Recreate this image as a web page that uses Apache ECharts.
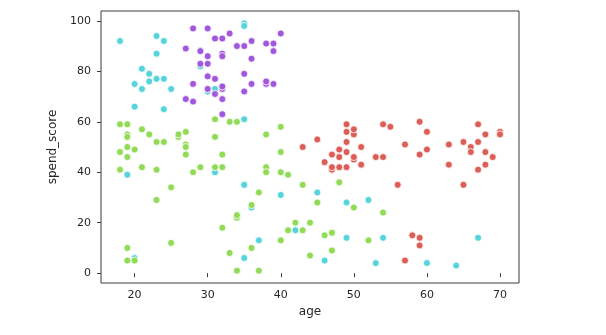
<!DOCTYPE html>
<html>
<head>
<meta charset="utf-8">
<script src="https://cdn.jsdelivr.net/npm/echarts@6/dist/echarts.min.js"></script>
<style>
  html, body { margin: 0; padding: 0; background: #ffffff; }
  #chart { width: 606px; height: 335px; }
</style>
</head>
<body>
<div id="chart"></div>
<script>
// Customer segments: age vs. spending score, one array pair per cluster
const cyanAge   = [19,21,20,23,31,22,35,23,64,30,67,35,24,37,22,35,20,52,35,35,25,46,31,54,29,45,35,40,23,60,21,53,18,49,21,42,30,36,20,24,49,24];
const cyanScore = [39,81,6,77,40,76,6,94,3,72,14,99,77,13,79,35,66,29,98,35,73,5,73,14,82,32,61,31,87,4,73,4,92,14,81,17,73,26,75,92,28,65];

const redAge   = [50,49,59,50,47,51,69,53,70,67,54,63,43,68,70,47,60,60,59,45,49,57,67,46,48,55,50,68,48,47,48,49,67,49,66,54,68,66,65,63,49,51,50,58,58,59,59,57,56,65];
const redScore = [55,52,60,45,41,50,46,46,56,52,59,51,50,48,55,42,49,56,47,53,42,51,41,44,46,58,46,55,49,47,42,48,59,56,50,46,43,48,52,43,59,43,57,15,15,14,11,5,35,35];

const greenAge   = [48,31,27,29,31,33,31,27,19,18,19,32,26,40,23,38,21,22,34,18,40,32,24,27,20,23,26,21,19,38,19,18,19,27,38,40,23,43,47,25,20,44,19,28,25,48,34,43,44,47,37,34,19,50,42,36,40,36,52,37,46,41,54,41,34,33,47,45,32];
const greenScore = [36,61,47,42,42,60,54,51,55,59,59,47,54,48,52,55,57,55,60,41,40,42,52,50,49,41,55,42,54,42,46,48,50,56,40,58,29,35,9,34,5,7,10,40,12,36,22,17,20,16,1,1,5,26,20,27,13,10,13,32,15,39,24,17,23,8,16,28,18];

const purpleAge   = [39,31,40,38,39,31,29,32,35,32,32,28,32,34,39,38,27,30,30,29,31,36,33,32,28,36,30,27,35,32,29,30,28,36,32,38,35,32,30];
const purpleScore = [91,77,95,75,75,71,88,73,72,93,87,97,74,90,88,76,89,78,73,83,93,75,95,63,75,92,86,69,90,86,88,97,68,85,69,91,79,74,83];

const xTicks = [20, 30, 40, 50, 60, 70];
const yTicks = [0, 20, 40, 60, 80, 100];

const pairs = (xs, ys) => xs.map((x, i) => [x, ys[i]]);

const FONT = 'DejaVu Sans';
const INK = '#262626';
const SPINE = '#3a3a3a';

function cluster(name, color, xs, ys) {
  return {
    name: name,
    type: 'scatter',
    data: pairs(xs, ys),
    symbolSize: 7,
    itemStyle: { color: color, borderColor: '#ffffff', borderWidth: 0.8, opacity: 1 },
    emphasis: { disabled: true }
  };
}

const chart = echarts.init(document.getElementById('chart'), null, { renderer: 'canvas' });
chart.setOption({
  animation: false,
  backgroundColor: '#ffffff',
  grid: {
    left: 101, top: 11, width: 418, height: 272,
    show: true, borderColor: SPINE, borderWidth: 1, backgroundColor: 'transparent'
  },
  xAxis: {
    type: 'value',
    min: 15.4, max: 72.6,
    name: 'age',
    nameLocation: 'middle',
    nameGap: 23,
    nameTextStyle: { fontFamily: FONT, fontSize: 12, color: INK },
    axisLine: { show: false },
    axisTick: { show: true, length: 4, inside: false, customValues: xTicks, lineStyle: { color: SPINE, width: 1 } },
    axisLabel: { customValues: xTicks, margin: 7, fontFamily: FONT, fontSize: 11, color: INK },
    splitLine: { show: false }
  },
  yAxis: {
    type: 'value',
    min: -3.9, max: 103.9,
    name: 'spend_score',
    nameLocation: 'middle',
    nameRotate: 90,
    nameGap: 33,
    nameTextStyle: { fontFamily: FONT, fontSize: 12, color: INK },
    axisLine: { show: false },
    axisTick: { show: true, length: 4, inside: false, customValues: yTicks, lineStyle: { color: SPINE, width: 1 } },
    axisLabel: { customValues: yTicks, margin: 10, fontFamily: FONT, fontSize: 11, color: INK },
    splitLine: { show: false }
  },
  series: [
    cluster('cyan', '#57d3db', cyanAge, cyanScore),
    cluster('red', '#db5f57', redAge, redScore),
    cluster('green', '#91db57', greenAge, greenScore),
    cluster('purple', '#a157db', purpleAge, purpleScore)
  ]
});
</script>
</body>
</html>
